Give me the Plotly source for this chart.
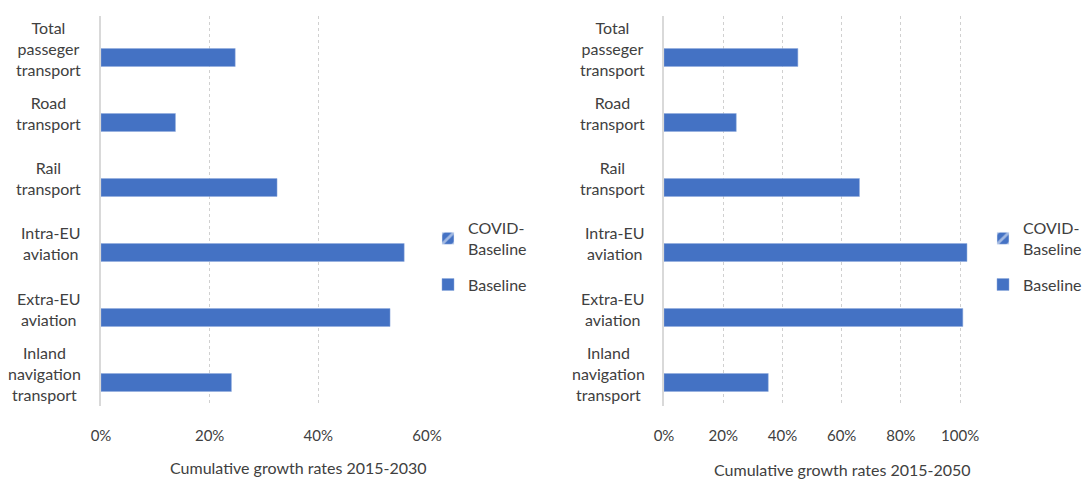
import plotly.graph_objects as go

# categories (top to bottom)
categories = ["Total passeger transport", "Road transport", "Rail transport",
              "Intra-EU aviation", "Extra-EU aviation", "Inland navigation transport"]
category_labels = ["Total<br>passeger<br>transport", "Road<br>transport", "Rail<br>transport",
                   "Intra-EU<br>aviation", "Extra-EU<br>aviation", "Inland<br>navigation<br>transport"]

# cumulative growth rates (fractions)
baseline_2030 = [0.247, 0.137, 0.324, 0.558, 0.532, 0.240]
baseline_2050 = [0.452, 0.244, 0.660, 1.023, 1.009, 0.352]
# COVID-Baseline series has no visible bars in the source
covid_2030 = [None] * 6
covid_2050 = [None] * 6

W, H = 1084, 479
BLUE = "#4472C4"
TXT = "#404040"
FONT = "Lato"

def fx(px):
    return px / W

def fy(py):
    return 1 - py / H

fig = go.Figure()

for i, (covid, base) in enumerate([(covid_2030, baseline_2030), (covid_2050, baseline_2050)]):
    sfx = "" if i == 0 else "2"
    fig.add_trace(go.Bar(
        y=categories, x=covid, orientation="h", name="COVID-<br>Baseline",
        marker=dict(color=BLUE, pattern=dict(shape="/", fgcolor="white", solidity=0.35)),
        xaxis="x" + sfx, yaxis="y" + sfx, legend="legend" + sfx, legendgroup="c" + sfx,
    ))
    fig.add_trace(go.Bar(
        y=categories, x=base, orientation="h", name="Baseline",
        marker=dict(color=BLUE, line=dict(color="#8FAADC", width=0.5)),
        xaxis="x" + sfx, yaxis="y" + sfx, legend="legend" + sfx, legendgroup="b" + sfx,
    ))

ydom = [fy(406), fy(16)]
xcommon = dict(
    tickformat=".0%", dtick=0.2, showgrid=True, gridcolor="#D0D0D0", griddash="dot",
    gridwidth=1, zeroline=False, showline=False, ticks="outside", ticklen=16,
    tickcolor="rgba(0,0,0,0)", tickfont=dict(family=FONT, size=15, color=TXT),
    automargin=False,
)
ycommon = dict(
    type="category", range=[5.5, -0.5], showticklabels=False, showgrid=False,
    zeroline=False, showline=True, linecolor="#D9D9D9", linewidth=2, domain=ydom,
    automargin=False,
)
legcommon = dict(xanchor="left", yanchor="top", font=dict(family=FONT, size=16, color=TXT),
                 itemwidth=30, bgcolor="rgba(0,0,0,0)", tracegroupgap=12)

fig.update_layout(
    width=W, height=H,
    margin=dict(l=0, r=0, t=0, b=0, autoexpand=False),
    paper_bgcolor="white", plot_bgcolor="white",
    barmode="group", bargap=0.446, bargroupgap=0,
    font=dict(family=FONT, size=16, color=TXT),
    xaxis=dict(domain=[fx(101), fx(427)], range=[0, 0.6], anchor="y", **xcommon),
    xaxis2=dict(domain=[fx(664), fx(972)], range=[0, 1.04], anchor="y2", **xcommon),
    yaxis=dict(anchor="x", **ycommon),
    yaxis2=dict(anchor="x2", **ycommon),
    legend=dict(x=fx(428), y=fy(211), **legcommon),
    legend2=dict(x=fx(983), y=fy(211), **legcommon),
)

# centred category labels
for ax, xr in (("y", 83), ("y2", 647)):
    for cat, lab in zip(categories, category_labels):
        fig.add_annotation(
            text=lab, xref="paper", yref=ax, x=fx(xr), y=cat,
            xanchor="right", yanchor="middle", align="center", showarrow=False,
            font=dict(family=FONT, size=16, color=TXT),
        )

# axis titles
fig.add_annotation(text="Cumulative growth rates 2015-2030", xref="paper", yref="paper",
                   x=fx(298), y=fy(467), xanchor="center", yanchor="middle",
                   showarrow=False, font=dict(family=FONT, size=16, color=TXT))
fig.add_annotation(text="Cumulative growth rates 2015-2050", xref="paper", yref="paper",
                   x=fx(842), y=fy(469), xanchor="center", yanchor="middle",
                   showarrow=False, font=dict(family=FONT, size=16, color=TXT))

# the page's default body margin would shift the figure by 8px
fig.write_html("out.html", config={"displayModeBar": False},
               post_script="document.body.style.margin='0';")
